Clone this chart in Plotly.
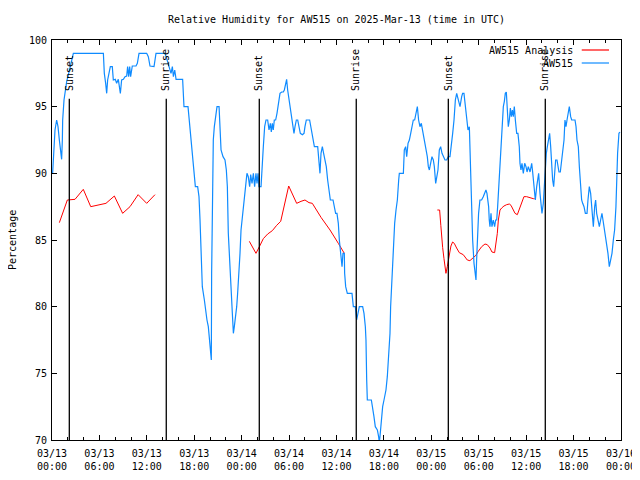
import pandas as pd
import plotly.graph_objects as go

START = pd.Timestamp("2025-03-13 00:00")
END = pd.Timestamp("2025-03-16 00:00")

# Observed AW515 relative humidity (hours since 03/13 00:00 UTC, percent)
obs_hours = [
    0.08, 0.25, 0.38, 0.59, 0.76, 0.93, 1.10, 1.22, 1.31, 1.35, 1.52, 1.69, 1.86, 2.11, 2.36, 2.70,
    6.50, 6.62, 6.79, 6.92, 7.04, 7.21, 7.38, 7.63, 7.76, 8.01, 8.18, 8.39, 8.52, 8.65, 8.81, 9.03,
    9.24, 9.45, 9.57, 9.70, 9.83, 9.95, 10.16, 10.63, 10.80, 11.01, 11.98, 12.19, 12.40, 12.91, 13.16,
    14.30, 14.51, 14.85, 15.06, 15.23, 15.36, 15.53, 15.70, 16.53, 16.70, 17.21, 17.38, 17.63, 17.80,
    17.97, 18.14, 18.43, 18.60, 18.73, 18.85, 19.02, 19.28, 19.45, 19.61, 19.78, 19.91, 20.03, 20.16,
    20.20, 20.29, 20.41, 20.54, 20.71, 20.88, 21.14, 21.26, 21.39, 21.64, 21.89, 22.06, 22.19, 22.31,
    22.48, 22.65, 22.82, 22.95, 23.07, 23.20, 23.37, 23.49, 23.66, 23.79, 23.92, 24.13, 24.29, 24.42,
    24.55, 24.67, 24.84, 25.01, 25.14, 25.31, 25.48, 25.64, 25.81, 25.94, 26.07, 26.19, 26.45, 26.57,
    26.74, 26.91, 27.08, 27.29, 27.46, 27.63, 27.75, 27.88, 28.00, 28.13, 28.30, 28.47, 28.64, 28.85,
    29.06, 29.27, 29.40, 29.57, 29.69, 29.82, 29.99, 30.16, 30.33, 30.49, 30.62, 30.75, 30.92, 31.09,
    31.25, 31.42, 31.68, 31.89, 32.01, 32.18, 32.60, 32.86, 33.03, 33.20, 33.62, 33.79, 33.91, 34.04,
    34.21, 34.37, 34.54, 34.71, 34.88, 35.05, 35.22, 35.56, 35.72, 35.89, 36.06, 36.23, 36.36, 36.49,
    36.57, 36.70, 36.82, 36.99, 37.03, 37.16, 37.37, 37.96, 38.13, 38.38, 38.55, 38.72, 38.89, 39.31,
    39.48, 39.65, 39.73, 39.82, 39.90, 40.41, 40.57, 40.74, 40.91, 41.17, 41.33, 41.42, 41.50, 41.67,
    41.84, 42.01, 42.26, 42.43, 42.60, 42.77, 42.85, 43.02, 43.19, 43.36, 43.53, 43.70, 43.87, 43.95,
    44.46, 44.58, 44.75, 44.88, 45.05, 45.22, 45.39, 45.55, 45.72, 45.89, 46.06, 46.23, 46.39, 46.56,
    46.73, 46.90, 47.07, 47.24, 47.49, 47.62, 47.75, 47.91, 48.08, 48.25, 48.38, 48.55, 48.67, 48.84,
    49.01, 49.18, 49.35, 49.52, 49.73, 49.94, 50.15, 50.36, 50.53, 50.70, 50.87, 51.04, 51.21, 51.42,
    51.63, 51.84, 51.96, 52.13, 52.30, 52.47, 52.64, 52.81, 52.89, 53.06, 53.23, 53.40, 53.52, 53.65,
    53.73, 53.86, 53.98, 54.15, 54.36, 54.57, 54.74, 54.91, 55.04, 55.16, 55.25, 55.33, 55.42, 55.55,
    55.67, 55.84, 56.01, 56.14, 56.27, 56.39, 56.52, 56.69, 56.81, 56.94, 57.11, 57.24, 57.36, 57.49,
    57.62, 57.74, 57.87, 58.00, 58.12, 58.25, 58.37, 58.50, 58.63, 58.80, 58.96, 59.13, 59.22, 59.34,
    59.47, 59.64, 59.81, 59.98, 60.11, 60.27, 60.49, 60.70, 60.82, 60.99, 61.16, 61.33, 61.45, 61.58,
    61.75, 61.87, 62.00, 62.17, 62.29, 62.42, 62.55, 62.68, 62.85, 62.97, 63.10, 63.23, 63.35, 63.48,
    63.61, 63.73, 63.90, 64.03, 64.15, 64.32, 64.45, 64.62, 64.79, 64.91, 65.04, 65.17, 65.29, 65.46,
    65.63, 65.76, 66.18, 66.31, 66.43, 66.60, 66.73, 66.90, 67.02, 67.15, 67.32, 67.49, 67.70, 67.82,
    67.99, 68.16, 68.33, 68.50, 68.67, 68.79, 68.92, 69.09, 69.26, 69.42, 69.59, 69.72, 69.85, 70.02,
    70.18, 70.35, 70.52, 70.69, 70.86, 71.03, 71.19, 71.36, 71.45, 71.57, 71.74, 71.87,
]
obs_values = [
    90.0, 92.25, 93.25, 94.0, 93.5, 92.5, 91.5, 91.05, 92.5, 94.0, 95.5, 96.25, 96.9, 97.5, 98.25, 99.0,
    99.0, 97.5, 96.75, 96.0, 97.0, 97.5, 98.0, 98.0, 97.0, 97.05, 96.75, 97.05, 96.5, 96.0, 97.0, 97.05,
    97.25, 97.3, 98.0, 97.25, 98.0, 97.25, 98.05, 98.05, 98.25, 99.0, 99.0, 98.75, 98.05, 98.0, 99.0,
    99.0, 98.6, 98.0, 97.5, 98.0, 97.25, 97.75, 97.05, 97.05, 95.0, 95.0, 94.0, 92.5, 91.5,
    90.5, 89.0, 89.0, 88.25, 86.5, 83.5, 81.5, 80.5, 79.5, 79.0, 78.5, 77.5, 76.75, 76.0,
    82.5, 88.75, 92.5, 93.5, 94.25, 95.0, 95.0, 93.5, 91.75, 91.25, 91.0, 90.25, 89.0, 85.5,
    83.0, 81.5, 79.5, 78.0, 78.5, 79.0, 80.0, 81.0, 82.5, 84.0, 85.75, 87.0, 88.0, 88.5,
    89.0, 90.0, 89.75, 89.0, 89.9, 89.25, 90.0, 89.0, 90.0, 89.25, 90.0, 89.0, 89.0, 90.5,
    92.0, 93.5, 94.0, 94.0, 93.25, 93.75, 93.1, 93.75, 93.25, 94.0, 94.0, 94.5, 95.25, 96.0,
    96.1, 96.1, 96.25, 96.75, 97.05, 96.25, 95.5, 95.0, 94.0, 93.5, 93.0, 93.5, 94.0, 94.0,
    93.5, 93.0, 92.9, 93.0, 93.5, 94.0, 94.0, 93.25, 92.5, 92.0, 92.0, 91.0, 90.0, 91.5,
    92.0, 91.5, 91.0, 90.5, 89.5, 88.5, 88.0, 88.0, 87.5, 87.0, 87.0, 86.25, 85.0, 84.25,
    83.5, 83.0, 84.0, 84.0, 82.5, 81.5, 81.0, 81.0, 80.0, 80.0, 79.0, 79.5, 80.0, 80.0,
    79.5, 78.5, 77.5, 74.5, 73.0, 73.0, 72.5, 71.75, 71.0, 70.75, 70.25, 69.8, 70.25, 71.5,
    72.5, 73.0, 73.75, 74.75, 76.25, 78.0, 80.0, 82.5, 85.0, 86.25, 87.25, 88.0, 89.5, 90.0,
    90.0, 91.75, 92.0, 91.25, 92.25, 92.5, 93.0, 93.5, 94.0, 94.0, 94.5, 95.0, 94.0, 93.5,
    93.75, 93.25, 92.5, 92.0, 91.25, 90.5, 90.25, 90.75, 91.25, 91.0, 90.5, 89.25, 89.75, 90.25,
    91.75, 92.0, 91.5, 91.25, 91.0, 91.0, 91.25, 91.25, 92.0, 93.0, 94.0, 95.5, 96.0, 95.5,
    95.0, 95.75, 96.0, 96.0, 95.0, 94.0, 93.25, 93.5, 91.5, 87.0, 85.0, 83.25, 82.75, 82.0,
    83.5, 85.5, 87.0, 88.0, 88.0, 88.25, 88.5, 88.75, 88.5, 88.0, 87.5, 86.5, 86.0, 87.0,
    86.0, 86.5, 86.0, 86.5, 86.5, 87.5, 89.0, 91.25, 92.5, 94.0, 95.0, 95.4, 96.0, 96.1,
    94.5, 93.5, 94.0, 94.9, 94.25, 94.75, 94.25, 95.0, 94.0, 93.0, 93.0, 92.0, 90.75, 90.25,
    90.75, 90.0, 90.75, 90.5, 90.1, 90.5, 90.1, 90.75, 90.1, 89.0, 88.0, 89.0, 89.75, 90.0,
    88.5, 87.75, 87.0, 87.75, 89.0, 91.0, 91.5, 92.0, 92.5, 93.0, 92.0, 90.5, 89.5, 89.0,
    90.0, 91.0, 91.0, 90.5, 90.1, 90.1, 90.75, 91.5, 92.5, 94.0, 93.5, 94.0, 94.5, 95.0,
    94.25, 94.0, 94.0, 93.5, 92.5, 92.0, 90.5, 89.0, 88.0, 87.75, 87.5, 87.0, 87.0, 88.0,
    89.0, 88.5, 87.0, 86.0, 87.5, 88.0, 87.0, 86.5, 86.0, 86.5, 87.0, 86.5, 86.0, 85.5,
    84.75, 84.0, 83.0, 83.5, 84.0, 85.0, 85.75, 87.5, 89.5, 91.5, 93.0, 93.1,
]

# AW515 Analysis (None marks gaps between analysis runs)
ana_hours = [
    0.93, 1.94, 2.91, 3.96, 4.90, 5.86, 6.83, 7.89, 8.94, 9.87, 10.90, 11.98, 13.03,
    13.5,
    24.97, 25.81, 26.24, 26.74, 27.29, 27.88, 28.43, 28.94, 29.95, 30.96, 31.51, 32.01, 32.52,
    32.94, 34.04, 35.18, 36.23, 36.99,
    37.5,
    48.76, 49.05, 49.20, 49.30, 49.43, 49.60, 49.72, 49.85, 50.02, 50.14, 50.27, 50.48, 50.69,
    50.90, 51.20, 51.54, 52.04, 52.55, 52.88, 53.22, 53.64, 53.94, 54.37, 54.79, 55.08, 55.42,
    55.67, 56.01, 56.18, 56.35, 56.48, 56.69, 56.90, 57.19, 57.53, 57.87, 58.08, 58.29, 58.59,
    58.88, 59.13, 59.43, 59.72, 60.06, 60.48, 60.90, 61.07,
]
ana_values = [
    86.3, 88.0, 88.05, 88.8, 87.5, 87.65, 87.75, 88.3, 87.0, 87.5, 88.4, 87.75, 88.4,
    None,
    84.9, 84.0, 84.5, 85.1, 85.45, 85.7, 86.1, 86.4, 89.05, 87.75, 87.9, 88.0, 87.8,
    87.75, 86.7, 85.75, 84.75, 84.0,
    None,
    87.25, 87.25, 86.1, 85.2, 84.45, 83.6, 82.85, 82.5, 83.0, 83.5, 84.0, 84.55, 84.85,
    84.75, 84.4, 84.05, 83.9, 83.5, 83.45, 83.65, 83.85, 84.15, 84.5, 84.7, 84.65, 84.4,
    84.1, 84.05, 84.8, 85.5, 86.5, 87.25, 87.4, 87.55, 87.65, 87.7, 87.6, 87.3, 87.0,
    86.9, 87.3, 87.75, 88.25, 88.25, 88.15, 88.1, 88.1,
]

sun_hours = [2.19, 14.46, 26.23, 38.50, 50.15, 62.42]
sun_labels = ["Sunset", "Sunrise", "Sunset", "Sunrise", "Sunset", "Sunrise"]

tick_hours = list(range(0, 73, 6))
tick_labels = [
    (START + pd.Timedelta(hours=h)).strftime("%m/%d") + "<br>" +
    (START + pd.Timedelta(hours=h)).strftime("%H:%M") for h in tick_hours
]

y_ticks = [70, 75, 80, 85, 90, 95, 100]

FONT = "DejaVu Sans Mono"
RED = "#ff0000"
BLUE = "#0f8bff"

# the page body adds an 8 px margin, so the figure is 8 px smaller than the window
W, H = 632, 472


def to_time(hours):
    return [START + pd.Timedelta(hours=h) for h in hours]


fig = go.Figure()
fig.add_trace(go.Scatter(x=to_time(ana_hours), y=ana_values, mode="lines",
                         line=dict(color=RED, width=1), connectgaps=False,
                         name="AW515 Analysis", showlegend=False))
fig.add_trace(go.Scatter(x=to_time(obs_hours), y=obs_values, mode="lines",
                         line=dict(color=BLUE, width=1.2),
                         name="AW515", showlegend=False))

for h, lab in zip(sun_hours, sun_labels):
    t = START + pd.Timedelta(hours=h)
    fig.add_shape(type="line", xref="x", yref="paper", x0=t, x1=t, y0=0, y1=0.853,
                  line=dict(color="black", width=1.3))
    fig.add_annotation(x=t, xref="x", y=0.868, yref="paper", text=lab, textangle=-90,
                       showarrow=False, xanchor="center", yanchor="bottom",
                       font=dict(family=FONT, size=10, color="black"))

# key (gnuplot style: label then sample line)
key_rows = [("AW515 Analysis", RED, 0.975), ("AW515", BLUE, 0.9425)]
for text, col, yy in key_rows:
    fig.add_annotation(x=0.92, xref="paper", y=yy, yref="paper", text=text,
                       showarrow=False, xanchor="right", yanchor="middle",
                       font=dict(family=FONT, size=10, color="black"))
    fig.add_shape(type="line", xref="paper", yref="paper", x0=0.931, x1=0.979,
                  y0=yy, y1=yy, line=dict(color=col, width=1.2))

fig.add_annotation(x=-0.0703, xref="paper", y=0.5, yref="paper", text="Percentage",
                   textangle=-90, showarrow=False, xanchor="center", yanchor="middle",
                   font=dict(family=FONT, size=10, color="black"))

fig.update_layout(
    width=W, height=H,
    margin=dict(l=44, r=19, t=32, b=40, autoexpand=False),
    paper_bgcolor="white", plot_bgcolor="white",
    font=dict(family=FONT, size=10, color="black"),
    title=dict(text="Relative Humidity for AW515 on 2025-Mar-13 (time in UTC)",
               x=(44 + 613) / 2 / W, xanchor="center", y=1 - 11 / H, yanchor="middle",
               font=dict(family=FONT, size=10, color="black")),
    showlegend=False,
)
fig.update_xaxes(
    range=[START, END], tickmode="array", automargin=False,
    tickvals=to_time(tick_hours), ticktext=tick_labels,
    ticks="inside", ticklen=5, tickcolor="black", tickwidth=1,
    ticklabelstandoff=4,
    showline=True, linecolor="black", linewidth=1, mirror="ticks",
    showgrid=False, zeroline=False,
    tickfont=dict(family=FONT, size=10, color="black"),
    minor=dict(ticks="inside", ticklen=3, tickcolor="black", dtick=2 * 3600 * 1000,
               tick0=START, showgrid=False),
)
fig.update_yaxes(
    range=[70, 100], tickmode="array", tickvals=y_ticks, automargin=False,
    ticktext=[str(v) for v in y_ticks],
    ticks="inside", ticklen=5, tickcolor="black", tickwidth=1,
    ticklabelstandoff=2,
    showline=True, linecolor="black", linewidth=1, mirror="ticks",
    showgrid=False, zeroline=False,
    tickfont=dict(family=FONT, size=10, color="black"),
)

fig.write_html("out.html")
